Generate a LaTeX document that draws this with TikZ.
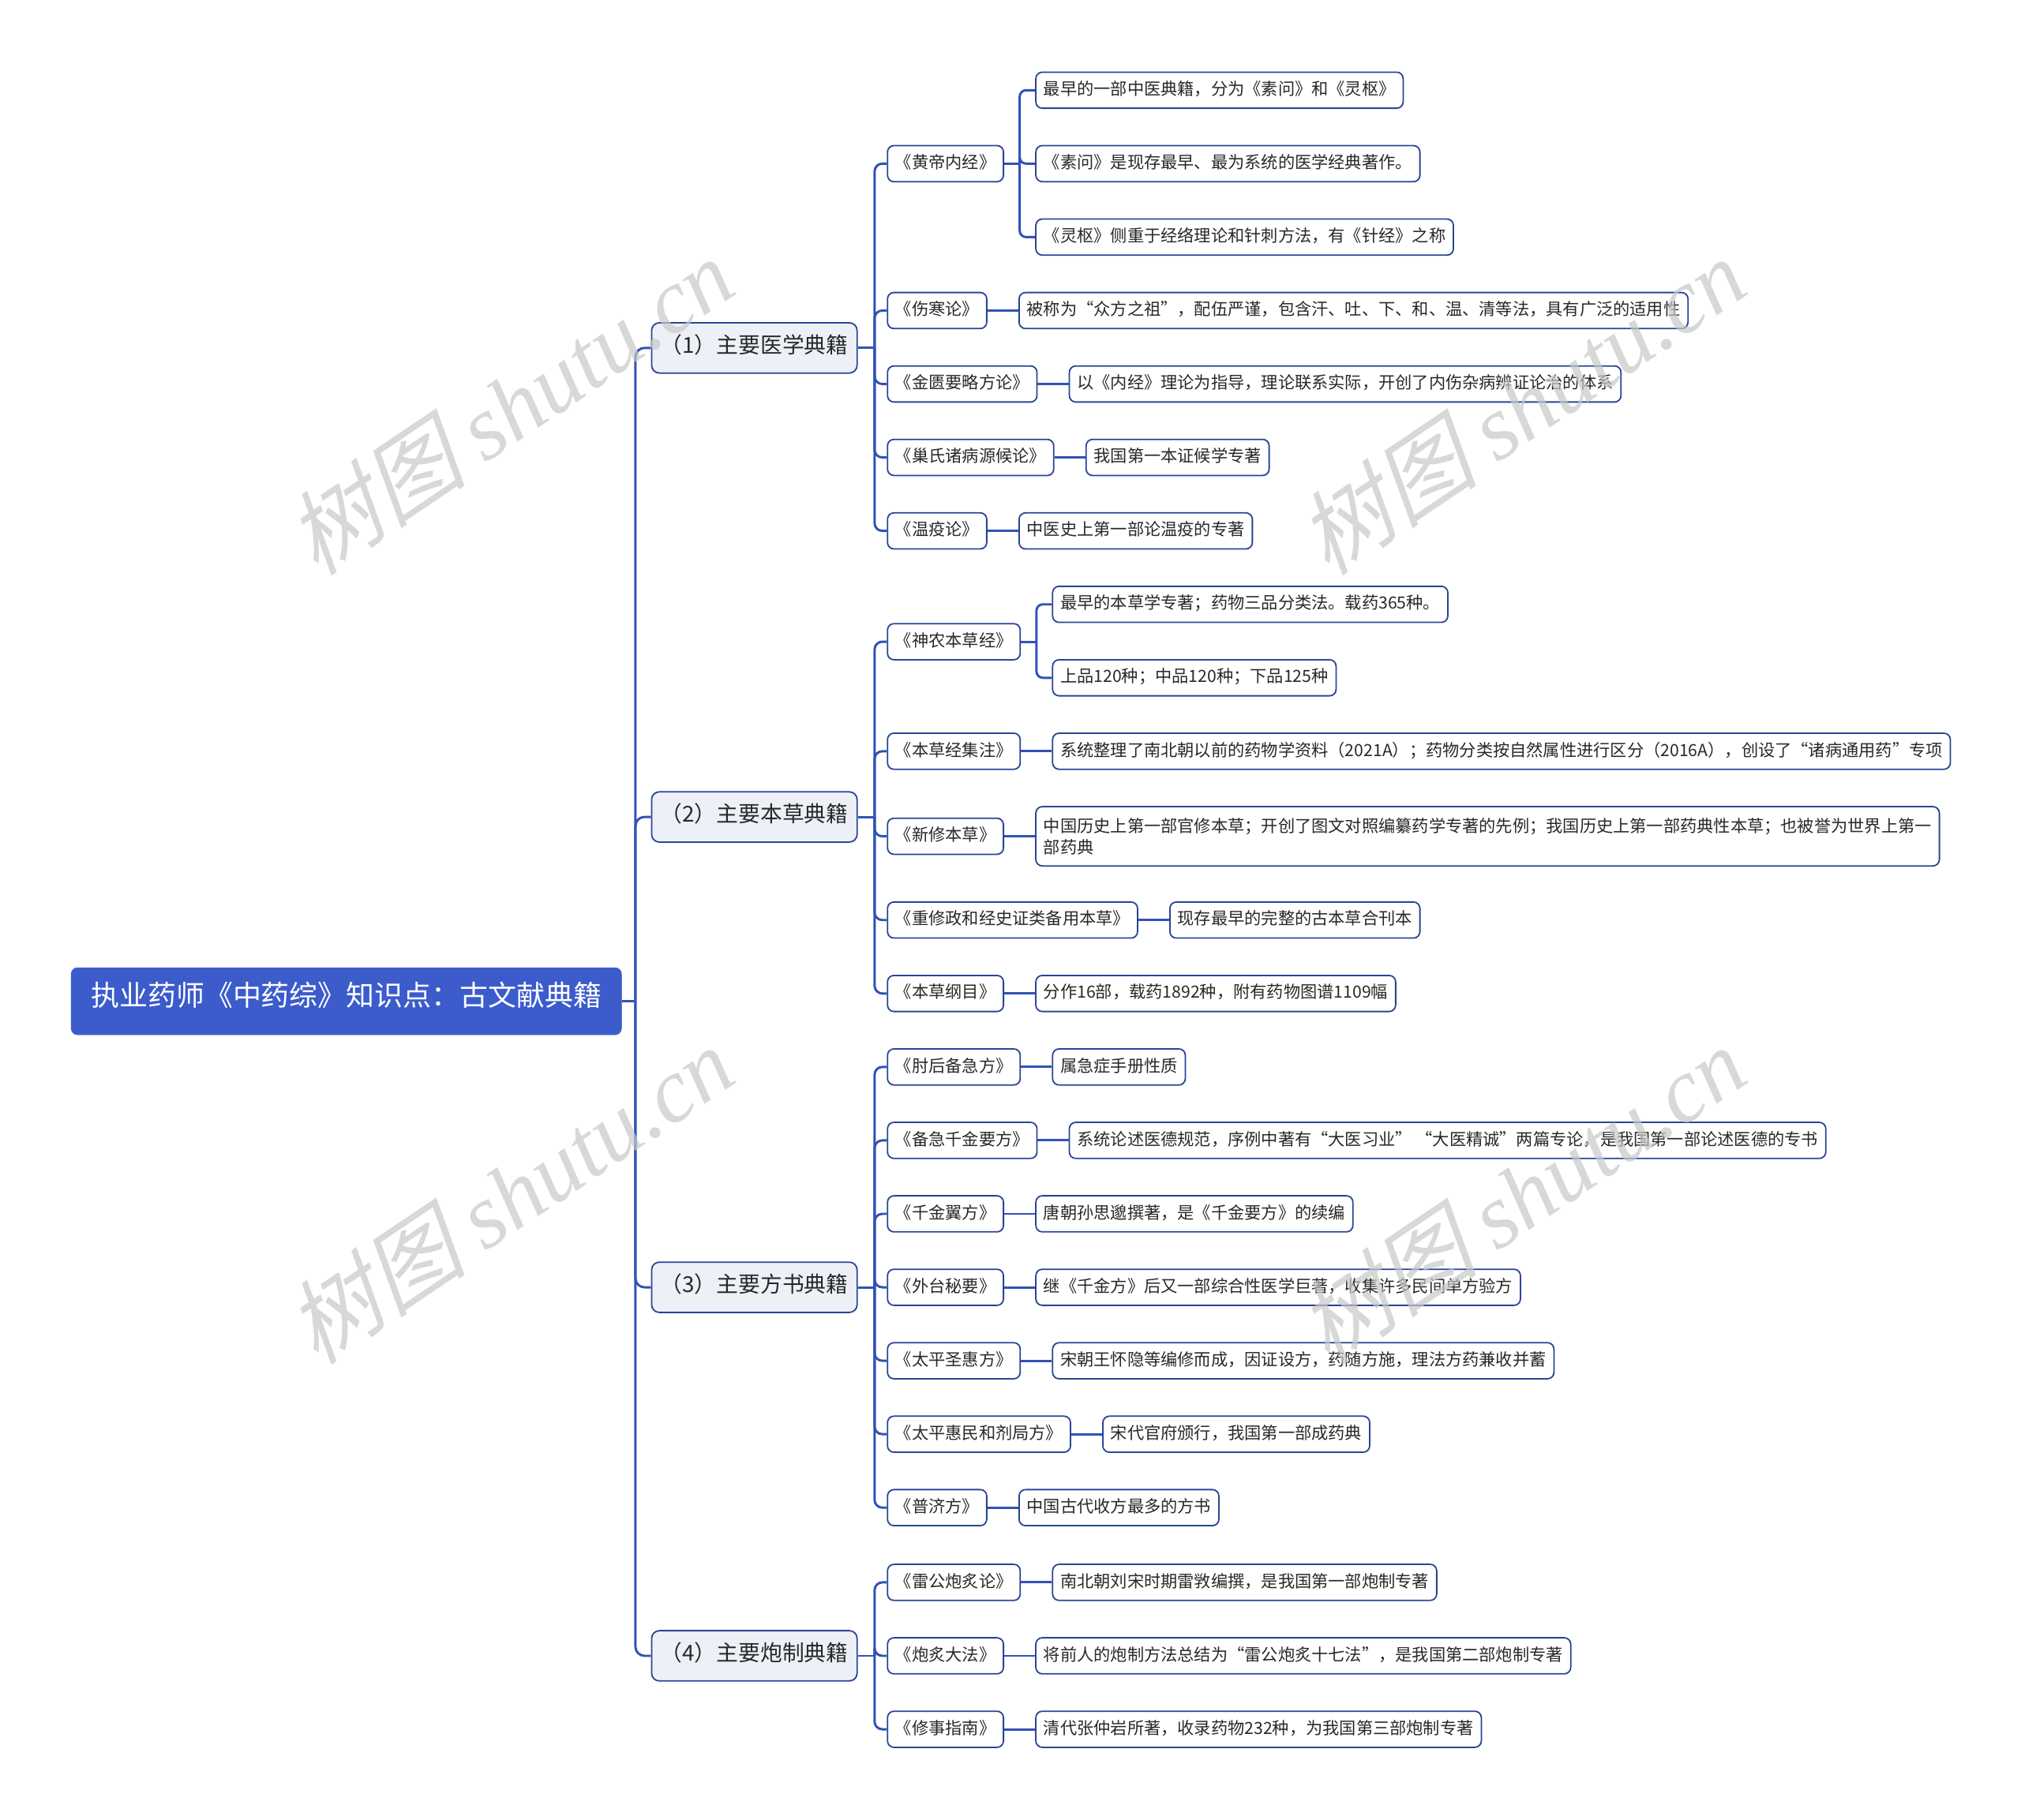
\documentclass[tikz,border=0pt]{standalone}
\usepackage{fontspec}
\setmainfont{Noto Sans CJK SC}
\newfontfamily\wmlat{Liberation Serif}
\newfontfamily\wmcjk[FakeSlant=0.25]{Noto Sans CJK SC}
\usetikzlibrary{calc}
\definecolor{rootfill}{RGB}{60,92,204}
\definecolor{linec}{RGB}{50,82,180}
\definecolor{borderc}{RGB}{40,70,150}
\definecolor{lonefill}{RGB}{237,241,247}
\definecolor{textc}{RGB}{40,40,40}
\definecolor{wmc}{RGB}{200,200,200}
\tikzset{
  rootbox/.style={draw=rootfill, fill=rootfill, text=white, rounded corners=5pt,
    font=\fontsize{22}{26}\selectfont, minimum height=52pt, minimum width=427pt,
    inner xsep=14pt, inner ysep=0pt, text height=0.88em, text depth=0.12em, anchor=west},
  lonebox/.style={draw=borderc, line width=1.1pt, fill=lonefill, text=textc, rounded corners=6pt,
    font=\fontsize{17}{20}\selectfont, minimum height=39pt, minimum width=159pt,
    inner xsep=7pt, inner ysep=0pt, text height=0.88em, text depth=0.12em, anchor=west},
  ltwo/.style={draw=borderc, line width=1.1pt, fill=white, text=textc, rounded corners=5pt,
    font=\fontsize{13}{16.5}\selectfont, minimum height=28pt,
    inner xsep=6pt, inner ysep=0pt, text height=0.88em, text depth=0.12em, anchor=west},
  conn/.style={draw=linec, line width=1.8pt},
  wm/.style={text=wmc, opacity=0.7, font=\fontsize{71}{80}\selectfont, rotate=34}
}
\begin{document}
\begin{tikzpicture}[x=1pt,y=-1pt]
\useasboundingbox (0,0) rectangle (1568,1412.4);

% root and level 1
\node[rootbox] (root) at (55,777) {执业药师《中药综》知识点：古文献典籍};
\node[lonebox] (g1) at (505,270) {（1）主要医学典籍};
\node[lonebox] (g2) at (505,634) {（2）主要本草典籍};
\node[lonebox] (g3) at (505,999) {（3）主要方书典籍};
\node[lonebox] (g4) at (505,1285) {（4）主要炮制典籍};

% group 1
\node[ltwo] (h11) at (688,127) {《黄帝内经》};
\node[ltwo] (c111) at ([xshift=24pt,yshift=57pt]h11.east) {最早的一部中医典籍，分为《素问》和《灵枢》};
\node[ltwo] (c112) at ([xshift=24pt]h11.east) {《素问》是现存最早、最为系统的医学经典著作。};
\node[ltwo] (c113) at ([xshift=24pt,yshift=-57pt]h11.east) {《灵枢》侧重于经络理论和针刺方法，有《针经》之称};
\node[ltwo] (h12) at (688,241) {《伤寒论》};
\node[ltwo] (c121) at ([xshift=24pt]h12.east) {被称为“众方之祖”，配伍严谨，包含汗、吐、下、和、温、清等法，具有广泛的适用性};
\node[ltwo] (h13) at (688,298) {《金匮要略方论》};
\node[ltwo] (c131) at ([xshift=24pt]h13.east) {以《内经》理论为指导，理论联系实际，开创了内伤杂病辨证论治的体系};
\node[ltwo] (h14) at (688,355) {《巢氏诸病源候论》};
\node[ltwo] (c141) at ([xshift=24pt]h14.east) {我国第一本证候学专著};
\node[ltwo] (h15) at (688,412) {《温疫论》};
\node[ltwo] (c151) at ([xshift=24pt]h15.east) {中医史上第一部论温疫的专著};

% group 2
\node[ltwo] (h21) at (688,498) {《神农本草经》};
\node[ltwo] (c211) at ([xshift=24pt,yshift=29pt]h21.east) {最早的本草学专著；药物三品分类法。载药365种。};
\node[ltwo] (c212) at ([xshift=24pt,yshift=-28pt]h21.east) {上品120种；中品120种；下品125种};
\node[ltwo] (h22) at (688,583) {《本草经集注》};
\node[ltwo] (c221) at ([xshift=24pt]h22.east) {系统整理了南北朝以前的药物学资料（2021A）；药物分类按自然属性进行区分（2016A），创设了“诸病通用药”专项};
\node[ltwo] (h23) at (688,649) {《新修本草》};
\node[ltwo, align=left, text height={}, text depth={}, inner ysep=4pt, minimum height=46pt] (c231) at ([xshift=24pt]h23.east) {中国历史上第一部官修本草；开创了图文对照编纂药学专著的先例；我国历史上第一部药典性本草；也被誉为世界上第一\\部药典};
\node[ltwo] (h24) at (688,714) {《重修政和经史证类备用本草》};
\node[ltwo] (c241) at ([xshift=24pt]h24.east) {现存最早的完整的古本草合刊本};
\node[ltwo] (h25) at (688,771) {《本草纲目》};
\node[ltwo] (c251) at ([xshift=24pt]h25.east) {分作16部，载药1892种，附有药物图谱1109幅};

% group 3
\node[ltwo] (h31) at (688,828) {《肘后备急方》};
\node[ltwo] (c311) at ([xshift=24pt]h31.east) {属急症手册性质};
\node[ltwo] (h32) at (688,885) {《备急千金要方》};
\node[ltwo] (c321) at ([xshift=24pt]h32.east) {系统论述医德规范，序例中著有“大医习业” “大医精诚”两篇专论，是我国第一部论述医德的专书};
\node[ltwo] (h33) at (688,942) {《千金翼方》};
\node[ltwo] (c331) at ([xshift=24pt]h33.east) {唐朝孙思邈撰著，是《千金要方》的续编};
\node[ltwo] (h34) at (688,999) {《外台秘要》};
\node[ltwo] (c341) at ([xshift=24pt]h34.east) {继《千金方》后又一部综合性医学巨著，收集许多民间单方验方};
\node[ltwo] (h35) at (688,1056) {《太平圣惠方》};
\node[ltwo] (c351) at ([xshift=24pt]h35.east) {宋朝王怀隐等编修而成，因证设方，药随方施，理法方药兼收并蓄};
\node[ltwo] (h36) at (688,1113) {《太平惠民和剂局方》};
\node[ltwo] (c361) at ([xshift=24pt]h36.east) {宋代官府颁行，我国第一部成药典};
\node[ltwo] (h37) at (688,1170) {《普济方》};
\node[ltwo] (c371) at ([xshift=24pt]h37.east) {中国古代收方最多的方书};

% group 4
\node[ltwo] (h41) at (688,1228) {《雷公炮炙论》};
\node[ltwo] (c411) at ([xshift=24pt]h41.east) {南北朝刘宋时期雷敩编撰，是我国第一部炮制专著};
\node[ltwo] (h42) at (688,1285) {《炮炙大法》};
\node[ltwo] (c421) at ([xshift=24pt]h42.east) {将前人的炮制方法总结为“雷公炮炙十七法”，是我国第二部炮制专著};
\node[ltwo] (h43) at (688,1342) {《修事指南》};
\node[ltwo] (c431) at ([xshift=24pt]h43.east) {清代张仲岩所著，收录药物232种，为我国第三部炮制专著};

% connectors: root -> level 1
\coordinate (rj) at (493,777);
\draw[conn] (root.east) -- (rj);
\foreach \n in {g1,g2,g3,g4} \draw[conn, rounded corners=7pt] (rj) |- (\n.west);

% level 1 -> level 2
\coordinate (j1) at ([xshift=13pt]g1.east);
\draw[conn] (g1.east) -- (j1);
\foreach \n in {h11,h12,h13,h14,h15} \draw[conn, rounded corners=6pt] (j1) |- (\n.west);
\coordinate (j2) at ([xshift=13pt]g2.east);
\draw[conn] (g2.east) -- (j2);
\foreach \n in {h21,h22,h23,h24,h25} \draw[conn, rounded corners=6pt] (j2) |- (\n.west);
\coordinate (j3) at ([xshift=13pt]g3.east);
\draw[conn] (g3.east) -- (j3);
\foreach \n in {h31,h32,h33,h34,h35,h36,h37} \draw[conn, rounded corners=6pt] (j3) |- (\n.west);
\coordinate (j4) at ([xshift=13pt]g4.east);
\draw[conn] (g4.east) -- (j4);
\foreach \n in {h41,h42,h43} \draw[conn, rounded corners=6pt] (j4) |- (\n.west);

% level 2 -> level 3
\coordinate (k11) at ([xshift=12pt]h11.east);
\draw[conn] (h11.east) -- (k11);
\foreach \n in {c111,c112,c113} \draw[conn, rounded corners=5pt] (k11) |- (\n.west);
\coordinate (k21) at ([xshift=12pt]h21.east);
\draw[conn] (h21.east) -- (k21);
\foreach \n in {c211,c212} \draw[conn, rounded corners=5pt] (k21) |- (\n.west);
\foreach \p/\c in {h12/c121,h13/c131,h14/c141,h15/c151,h22/c221,h23/c231,h24/c241,h25/c251,
  h31/c311,h32/c321,h33/c331,h34/c341,h35/c351,h36/c361,h37/c371,h41/c411,h42/c421,h43/c431}
  \draw[conn] (\p.east) -- (\c.west);

% watermarks
\node[wm] (w1) at (395,315) {{\wmcjk 树图} {\wmlat\itshape shutu.cn}};
\node[wm] (w2) at (1180,315) {{\wmcjk 树图} {\wmlat\itshape shutu.cn}};
\node[wm] (w3) at (395,927) {{\wmcjk 树图} {\wmlat\itshape shutu.cn}};
\node[wm] (w4) at (1180,927) {{\wmcjk 树图} {\wmlat\itshape shutu.cn}};
\end{tikzpicture}
\end{document}
